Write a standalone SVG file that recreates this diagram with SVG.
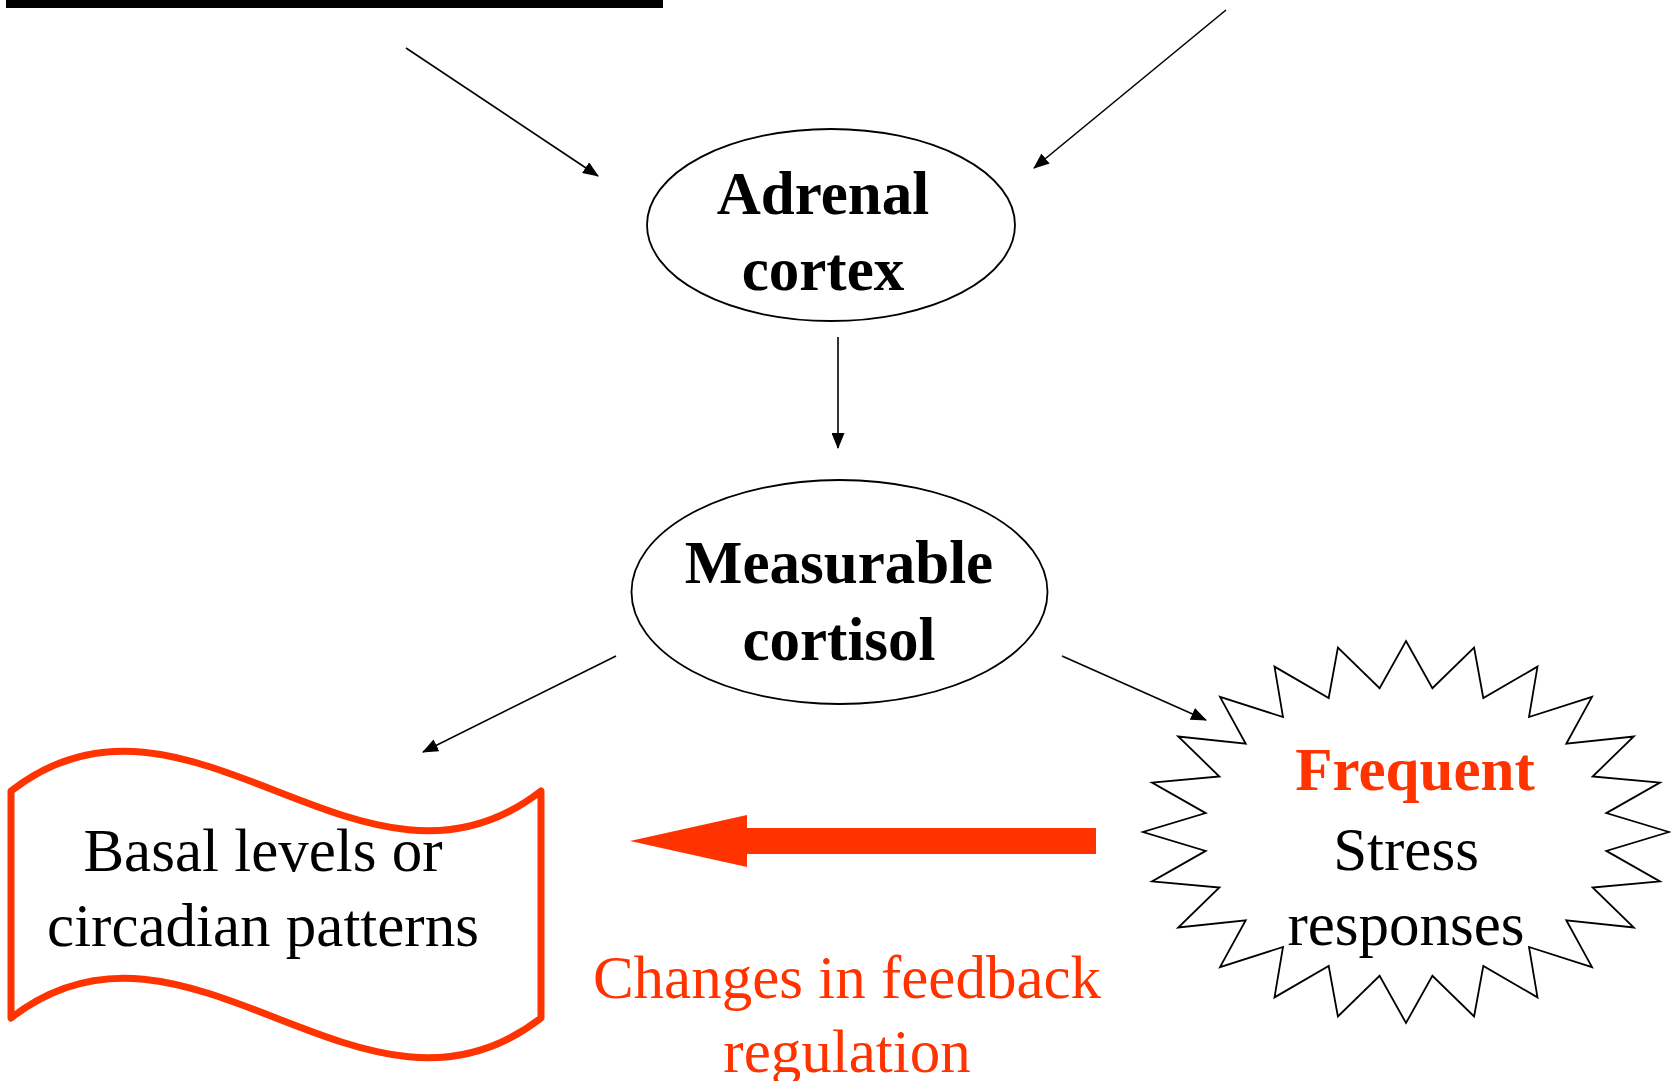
<svg xmlns="http://www.w3.org/2000/svg" width="1671" height="1081" viewBox="0 0 1671 1081">
  <style>
    .bg { fill: #ffffff; }
    .oval { fill: #ffffff; stroke: #000000; stroke-width: 1.8; }
    .star { fill: #ffffff; stroke: #000000; stroke-width: 1.8; stroke-linejoin: miter; }
    .wave { fill: #ffffff; stroke: #ff3300; stroke-width: 7; stroke-linejoin: round; }
    .link { fill: none; stroke: #000000; stroke-width: 1.6; marker-end: url(#tip); }
    .big-arrow { fill: #ff3300; }
    .t { font-family: "Liberation Serif", "Times New Roman", serif; font-size: 61px; text-anchor: middle; fill: #000000; }
    .b { font-weight: bold; }
    .red { fill: #ff3300; }
  </style>
  <defs>
    <marker id="tip" viewBox="0 0 16 13" refX="15" refY="6.5" markerWidth="16" markerHeight="13" markerUnits="userSpaceOnUse" orient="auto">
      <path d="M0,0 L16,6.5 L0,13 Z" fill="#000000"/>
    </marker>
  </defs>

  <rect class="bg" x="0" y="0" width="1671" height="1081"/>

  <!-- heavy rule along the top edge -->
  <rect x="6" y="0" width="657" height="8" fill="#000000"/>

  <!-- connectors -->
  <g id="connectors">
    <line class="link" x1="406" y1="48" x2="598" y2="176"/>
    <line class="link" x1="1226" y1="10" x2="1034" y2="168"/>
    <line class="link" x1="838" y1="337" x2="838" y2="448"/>
    <line class="link" x1="616" y1="656" x2="423" y2="752"/>
    <line class="link" x1="1062" y1="656" x2="1206" y2="720"/>
    <polygon class="big-arrow" points="630,841 747,815 747,828 1096,828 1096,854 747,854 747,867"/>
  </g>

  <g id="adrenal-cortex">
    <ellipse class="oval" cx="831" cy="225" rx="184" ry="96"/>
    <text class="t b" x="823" y="214">Adrenal</text>
    <text class="t b" x="823" y="290">cortex</text>
  </g>

  <g id="measurable-cortisol">
    <ellipse class="oval" cx="839.5" cy="592" rx="208" ry="112"/>
    <text class="t b" x="839" y="583">Measurable</text>
    <text class="t b" x="839" y="660">cortisol</text>
  </g>

  <g id="basal-levels">
    <path class="wave" d="M11,791 C187.7,653 364.3,929 541,791 L541,1018 C364.3,1156 187.7,880 11,1018 Z"/>
    <text class="t" x="263" y="871">Basal levels or</text>
    <text class="t" x="263" y="946">circadian patterns</text>
  </g>

  <g id="stress-responses">
    <polygon class="star" points="1406,641 1432.4,688.2 1474.1,647.5 1483.3,698 1537.5,666.6 1529,717 1592,696.9 1566.3,743.7 1633.8,736.5 1592.6,776.5 1660,782.6 1606.3,813.1 1669,832 1606.3,850.9 1660,881.4 1592.6,887.5 1633.8,927.5 1566.3,920.3 1592,967.1 1529,947 1537.5,997.4 1483.3,966 1474.1,1016.5 1432.4,975.8 1406,1023 1379.6,975.8 1337.9,1016.5 1328.7,966 1274.5,997.4 1283,947 1220,967.1 1245.7,920.3 1178.2,927.5 1219.4,887.5 1152,881.4 1205.7,850.9 1143,832 1205.7,813.1 1152,782.6 1219.4,776.5 1178.2,736.5 1245.7,743.7 1220,696.9 1283,717 1274.5,666.6 1328.7,698 1337.9,647.5 1379.6,688.2"/>
    <text class="t b red" x="1415" y="790">Frequent</text>
    <text class="t" x="1406" y="870">Stress</text>
    <text class="t" x="1406" y="945">responses</text>
  </g>

  <g id="feedback-label">
    <text class="t red" x="847" y="998">Changes in feedback</text>
    <text class="t red" x="847" y="1072">regulation</text>
  </g>
</svg>
